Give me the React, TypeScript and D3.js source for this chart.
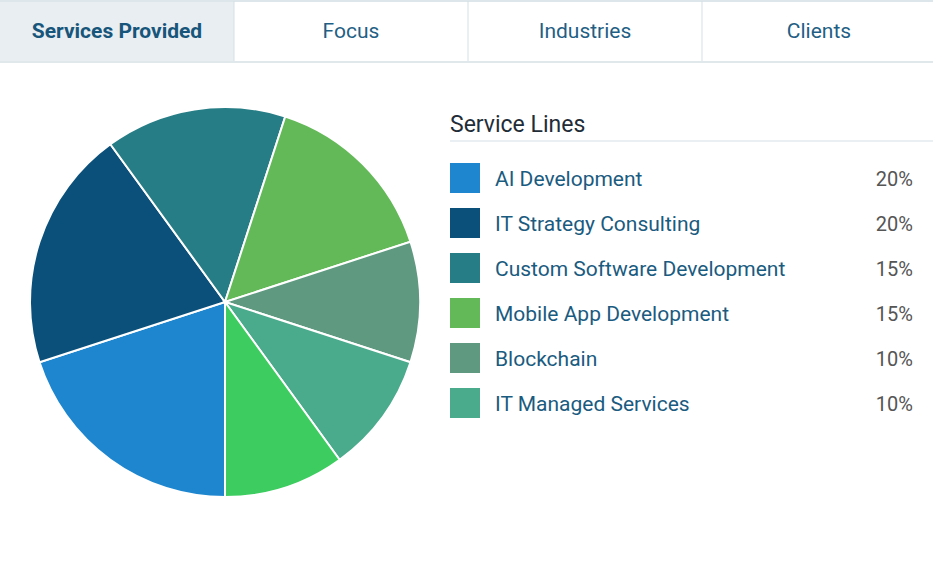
import React from "react";
import * as d3 from "d3";

const tabs = ["Services Provided", "Focus", "Industries", "Clients"];
const categories = [
  "AI Development",
  "IT Strategy Consulting",
  "Custom Software Development",
  "Mobile App Development",
  "Blockchain",
  "IT Managed Services",
  "Other",
];
const values = [20, 20, 15, 15, 10, 10, 10];
const colors = ["#1e86cf", "#0b507a", "#267d85", "#63b958", "#5e9980", "#4aaa8c", "#3ccc5f"];
const legendCount = 6;
const legendTitle = "Service Lines";

const W = 933;
const H = 561;
const FONT = "Roboto, 'Noto Sans', sans-serif";

export default function App() {
  const cx = 225;
  const cy = 302;
  const r = 195;
  const pie = d3
    .pie<number>()
    .sort(null)
    .value((d) => d)
    .startAngle(Math.PI)
    .endAngle(3 * Math.PI);
  const arcs = pie(values);
  const arc = d3.arc<d3.PieArcDatum<number>>().innerRadius(0).outerRadius(r);

  const tabX = d3.scaleBand<string>().domain(tabs).range([0, 936]).padding(0);
  const rowY = d3.scaleLinear().domain([0, 1]).range([163, 208]);

  return (
    <svg
      width={W}
      height={H}
      style={{ position: "absolute", left: 0, top: 0, background: "#fff" }}
      fontFamily={FONT}
    >
      {/* tabs */}
      <rect x={0} y={0} width={tabX.bandwidth()} height={62} fill="#e8eef1" />
      <line x1={0} x2={W} y1={1} y2={1} stroke="#dde6ea" strokeWidth={2} />
      <line x1={0} x2={W} y1={62} y2={62} stroke="#e0e8ec" strokeWidth={2} />
      {tabs.map((t, i) => (
        <g key={t}>
          {i > 0 && (
            <line
              x1={tabX(t)!}
              x2={tabX(t)!}
              y1={1}
              y2={61}
              stroke="#d3e0e6"
              strokeWidth={1}
            />
          )}
          <text
            x={tabX(t)! + tabX.bandwidth() / 2}
            y={38}
            textAnchor="middle"
            fontSize={21}
            fontWeight={i === 0 ? 700 : 400}
            fill={i === 0 ? "#17557b" : "#1f5f85"}
          >
            {t}
          </text>
        </g>
      ))}

      {/* pie */}
      <g transform={`translate(${cx},${cy})`}>
        {arcs.map((a, i) => (
          <path key={i} d={arc(a)!} fill={colors[i]} stroke="#fff" strokeWidth={2} />
        ))}
      </g>

      {/* legend */}
      <text x={450} y={132} fontSize={23} fill="#1f2d38">
        {legendTitle}
      </text>
      <line x1={450} x2={W} y1={141} y2={141} stroke="#e2eaee" strokeWidth={1.5} />
      {categories.slice(0, legendCount).map((c, i) => (
        <g key={c}>
          <rect x={450} y={rowY(i)} width={30} height={30} fill={colors[i]} />
          <text x={495} y={rowY(i) + 23} fontSize={21} fill="#1a5b80">
            {c}
          </text>
          <text x={913} y={rowY(i) + 23} fontSize={20} fill="#555" textAnchor="end">
            {values[i]}%
          </text>
        </g>
      ))}
    </svg>
  );
}
